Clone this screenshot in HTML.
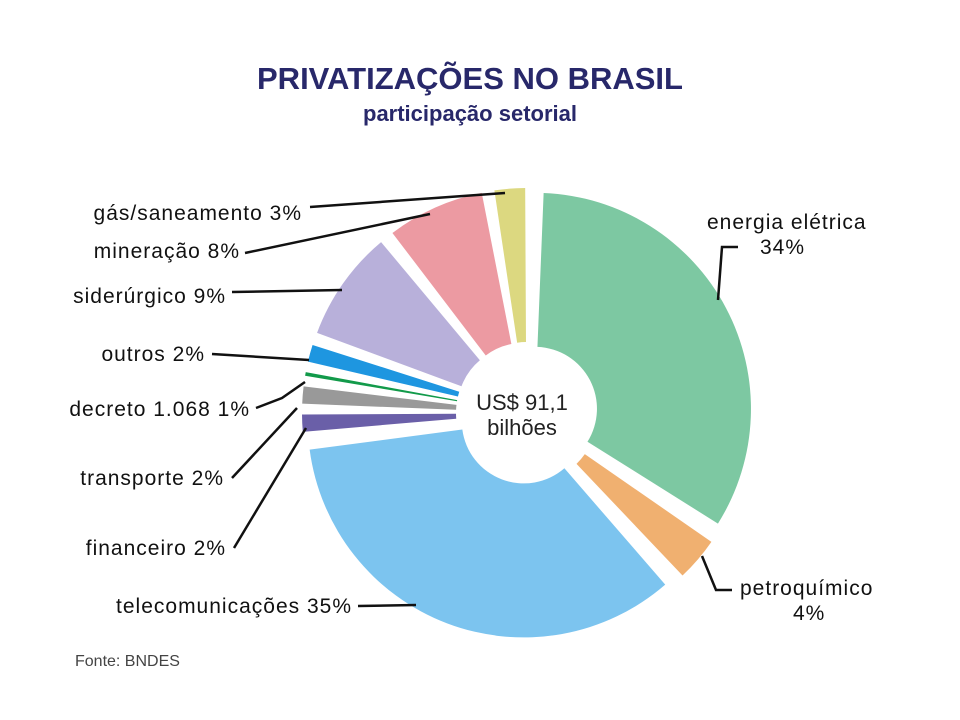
<!DOCTYPE html>
<html><head><meta charset="utf-8"><style>
body{margin:0;background:#fff;}
svg{display:block;font-family:"Liberation Sans",sans-serif;}
</style></head><body>
<svg width="960" height="720" viewBox="0 0 960 720">
<text x="470" y="89" text-anchor="middle" font-size="31" font-weight="bold" fill="#28286a">PRIVATIZAÇÕES NO BRASIL</text>
<text x="470" y="121" text-anchor="middle" font-size="22" font-weight="bold" fill="#28286a">participação setorial</text>
<g id="slices"></g>
<circle cx="527" cy="413" r="62" fill="#fff"/>
<text x="522" y="410" text-anchor="middle" font-size="22" fill="#222">US$ 91,1</text>
<text x="522" y="435" text-anchor="middle" font-size="22" fill="#222">bilhões</text>
<g stroke="#111" stroke-width="2.5" fill="none">
<polyline points="310,207 505,193"/>
<polyline points="245,253 430,214"/>
<polyline points="232,292 342,290"/>
<polyline points="212,354 309,360"/>
<polyline points="256,408 282,398 305,382"/>
<polyline points="232,478 297,408"/>
<polyline points="234,548 306,428"/>
<polyline points="358,606 416,605"/>
<polyline points="738,247 722,247 718,300"/>
<polyline points="732,590 716,590 702,556"/>
</g>
<g font-size="21" letter-spacing="1" fill="#111">
<text x="302" y="220" text-anchor="end">gás/saneamento 3%</text>
<text x="240" y="258" text-anchor="end">mineração 8%</text>
<text x="226" y="303" text-anchor="end">siderúrgico 9%</text>
<text x="205" y="361" text-anchor="end">outros 2%</text>
<text x="250" y="416" text-anchor="end">decreto 1.068 1%</text>
<text x="224" y="485" text-anchor="end">transporte 2%</text>
<text x="226" y="555" text-anchor="end">financeiro 2%</text>
<text x="352" y="613" text-anchor="end">telecomunicações 35%</text>
<text x="707" y="229">energia elétrica</text>
<text x="760" y="254">34%</text>
<text x="740" y="595">petroquímico</text>
<text x="793" y="620">4%</text>
</g>
<text x="75" y="666" font-size="16" fill="#444">Fonte: BNDES</text>
</svg>
<script>
const categories=["energia elétrica","petroquímico","telecomunicações","financeiro","transporte","decreto 1.068","outros","siderúrgico","mineração","gás/saneamento"];
const values=[34,4,35,2,2,1,2,9,8,3];
const colors=["#7dc8a2","#f0b070","#7cc4ef","#6a5fa8","#999999","#129a4a","#1e96e0","#b8b0da","#ec9aa2","#dcd880"];
const cx=527,cy=413,r0=62,r1=216,explode=9,gapDeg=2.6;
const total=values.reduce((a,b)=>a+b,0);
const g=document.getElementById('slices');
function pt(a,r,ox,oy){const t=(a-90)*Math.PI/180;return [cx+ox+r*Math.cos(t),cy+oy+r*Math.sin(t)];}
let start=1;
values.forEach((v,i)=>{
  const span=v/total*360;
  const a0=start+gapDeg/2,a1=start+span-gapDeg/2;
  const mid=(start+span/2-90)*Math.PI/180;
  const ox=explode*Math.cos(mid),oy=explode*Math.sin(mid);
  const p1=pt(a0,r1,ox,oy),p2=pt(a1,r1,ox,oy),p3=pt(a1,r0,ox,oy),p4=pt(a0,r0,ox,oy);
  const large=(a1-a0)>180?1:0;
  const d=`M${p1[0]},${p1[1]} A${r1},${r1} 0 ${large} 1 ${p2[0]},${p2[1]} L${p3[0]},${p3[1]} A${r0},${r0} 0 ${large} 0 ${p4[0]},${p4[1]} Z`;
  const path=document.createElementNS('http://www.w3.org/2000/svg','path');
  path.setAttribute('d',d);
  path.setAttribute('fill',colors[i]);
  
  
  g.appendChild(path);
  start+=span;
});
</script>
</body></html>
